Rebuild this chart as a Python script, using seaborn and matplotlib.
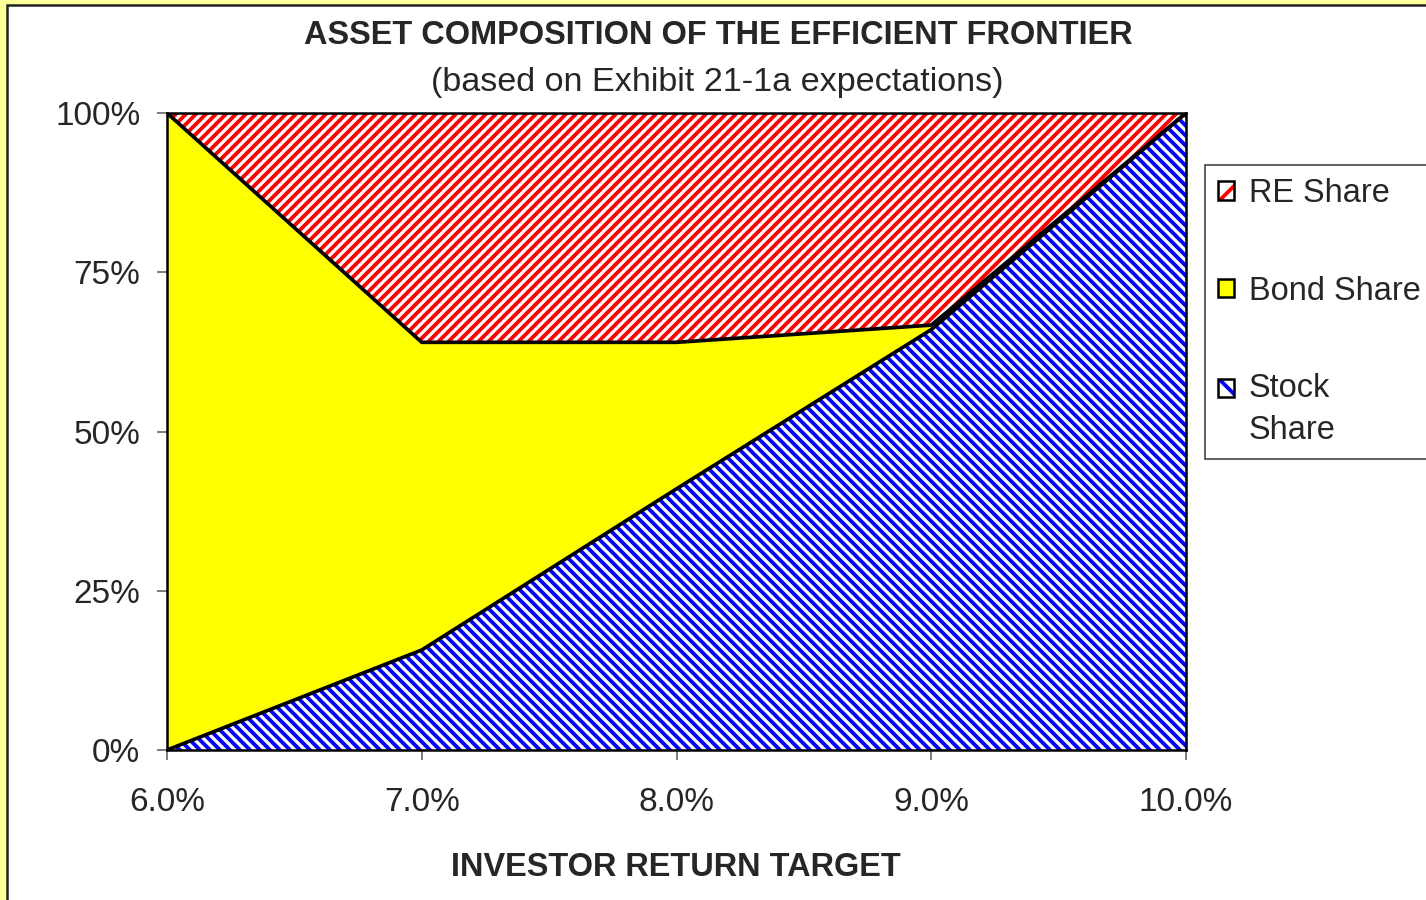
import pandas as pd
import seaborn as sns
import matplotlib
matplotlib.use("Agg")
from matplotlib import pyplot as plt
from matplotlib.patches import Patch, Rectangle
from matplotlib.legend_handler import HandlerBase

# values (share of portfolio, %)
return_target = [6.0, 7.0, 8.0, 9.0, 10.0]
stock_share = [0.0, 15.7, 41.0, 66.0, 100.0]
bond_share = [100.0, 48.3, 23.0, 0.7, 0.0]
re_share = [0.0, 36.0, 36.0, 33.3, 0.0]

y_ticks = [0, 25, 50, 75, 100]
y_tick_labels = ['0%', '25%', '50%', '75%', '100%']
x_tick_labels = ['6.0%', '7.0%', '8.0%', '9.0%', '10.0%']
series_labels = ['RE Share', 'Bond Share', 'Stock\nShare']

sns.set_style('white')
plt.rcParams['font.family'] = ['Liberation Sans', 'DejaVu Sans']
plt.rcParams['hatch.linewidth'] = 2.3

# hatch patterns (dense diagonal stripes)
re_hatch = '////'
stock_hatch = '\\\\\\\\'


class SquareHandler(HandlerBase):
    """small filled square with black outline, optionally moved up (for 2-line labels)"""
    def __init__(self, shift=0.0):
        super().__init__()
        self.shift = shift

    def create_artists(self, legend, orig_handle, xdescent, ydescent,
                       width, height, fontsize, trans):
        y0 = -ydescent + self.shift * fontsize
        fill = Rectangle((-xdescent, y0), width, height,
                         facecolor=orig_handle.get_facecolor(),
                         edgecolor=orig_handle.get_edgecolor(),
                         hatch=orig_handle.get_hatch(), lw=0, transform=trans)
        outline = Rectangle((-xdescent, y0), width, height, facecolor='none',
                            edgecolor='black', lw=1.5, transform=trans)
        return [fill, outline]


df = pd.DataFrame({'Return': return_target, 'Stock': stock_share,
                   'Bond': bond_share, 'RE': re_share})
# stack them up
df['StockTop'] = df['Stock']
df['BondTop'] = df['StockTop'] + df['Bond']
df['RETop'] = df['BondTop'] + df['RE']

fig = plt.figure(figsize=(1426 / 120, 900 / 120), dpi=120, facecolor='#FFFF99')
# white chart area inside the yellow frame
fig.add_artist(Rectangle((7 / 1426, -0.01), 1.0, 895 / 900 + 0.01,
                         transform=fig.transFigure, facecolor='white',
                         edgecolor='#222222', lw=1.5, zorder=-1))

ax = fig.add_axes([167 / 1426, 150 / 900, 1019 / 1426, 637 / 900])

ax.fill_between(df['Return'], df['BondTop'], df['RETop'], facecolor='white',
                edgecolor='red', hatch=re_hatch, lw=0)
ax.fill_between(df['Return'], df['StockTop'], df['BondTop'], facecolor='yellow', lw=0)
ax.fill_between(df['Return'], 0, df['StockTop'], facecolor='white',
                edgecolor='blue', hatch=stock_hatch, lw=0)

sns.lineplot(data=df, x='Return', y='StockTop', color='black', lw=2.2, ax=ax)
sns.lineplot(data=df, x='Return', y='BondTop', color='black', lw=2.2, ax=ax)

ax.set_xlim(6, 10)
ax.set_ylim(0, 100)
ax.set_xticks(return_target, x_tick_labels)
ax.set_yticks(y_ticks, y_tick_labels)
ax.set_xlabel('')
ax.set_ylabel('')
ax.tick_params(bottom=True, left=True, direction='out', length=6, width=1,
               color='#666666', labelsize=20)
ax.tick_params(axis='x', pad=16)
ax.tick_params(axis='y', pad=10)
for s in ax.spines.values():
    s.set_color('black')
    s.set_linewidth(1.5)

fig.text(0.504, 1 - 36 / 900, 'ASSET COMPOSITION OF THE EFFICIENT FRONTIER',
         ha='center', va='center', fontsize=19.5, fontweight='bold')
fig.text(0.503, 1 - 83 / 900, '(based on Exhibit 21-1a expectations)',
         ha='center', va='center', fontsize=20.5)
fig.text(676 / 1426, 1 - 867 / 900, 'INVESTOR RETURN TARGET',
         ha='center', va='center', fontsize=19.5, fontweight='bold')

# legend
re_patch = Patch(facecolor='white', edgecolor='red', hatch='//')
bond_patch = Patch(facecolor='yellow', edgecolor='black')
stock_patch = Patch(facecolor='white', edgecolor='blue', hatch='\\\\')
leg = fig.legend([re_patch, bond_patch, stock_patch], series_labels, loc='upper left',
                 bbox_to_anchor=(1205 / 1426, 1 - 165 / 900),
                 handler_map={stock_patch: SquareHandler(0.68), Patch: SquareHandler()},
                 fontsize=19.5, frameon=True, fancybox=False, framealpha=1,
                 edgecolor='#444444', borderpad=0.4, handlelength=0.5,
                 handleheight=0.5, handletextpad=0.45, labelspacing=2.05,
                 borderaxespad=0)
leg.get_frame().set_linewidth(1.0)
for t in leg.get_texts():
    t.set_linespacing(1.45)

fig.savefig('out.png', dpi=120, facecolor=fig.get_facecolor())
